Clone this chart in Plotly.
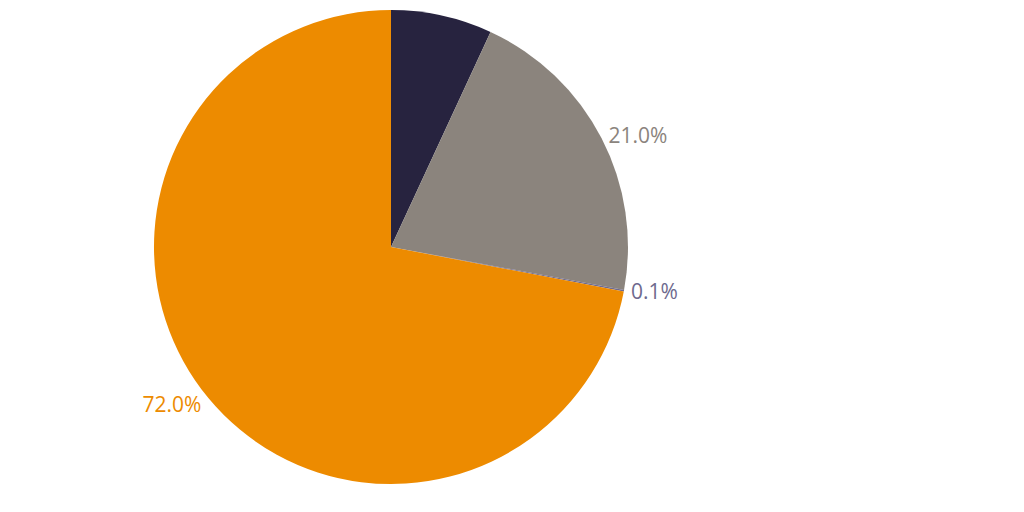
import plotly.graph_objects as go

labels = ["A", "B", "C", "D"]
values = [6.9, 21.0, 0.1, 72.0]
colors = ["#27233F", "#8B847D", "#6E6A8E", "#ED8B00"]
# the top label sits outside the visible area in the reference
label_text = ["", "%{percent:.1%}", "%{percent:.1%}", "%{percent:.1%}"]

fig = go.Figure(go.Pie(
    labels=labels,
    values=values,
    sort=False,
    direction="clockwise",
    rotation=0,
    marker=dict(colors=colors, line=dict(width=0)),
    texttemplate=label_text,
    textposition="outside",
    textfont=dict(size=21, color=colors, family="Open Sans"),
    showlegend=False,
    hoverinfo="label+percent",
    domain=dict(x=[0, 0.743], y=[0, 1]),
))

fig.update_layout(
    width=1024, height=512,
    margin=dict(l=10, r=10, t=2, b=36, autoexpand=False),
    paper_bgcolor="white",
    plot_bgcolor="white",
)

fig.write_html("out.html")
